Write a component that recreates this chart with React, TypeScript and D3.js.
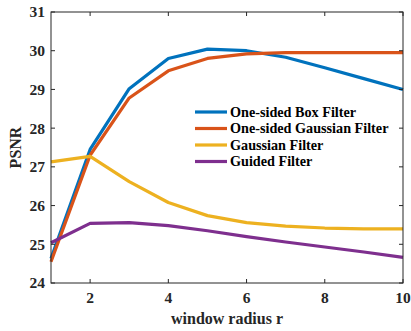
import React from 'react';
import * as d3 from 'd3';

// window radius r
const radius = [1, 2, 3, 4, 5, 6, 7, 8, 9, 10];

// PSNR per filter
const boxFilter = [24.63, 27.45, 29.02, 29.8, 30.04, 30.0, 29.83, 29.56, 29.28, 29.0];
const gaussOneSided = [24.55, 27.3, 28.78, 29.48, 29.8, 29.92, 29.95, 29.95, 29.95, 29.95];
const gaussFilter = [27.13, 27.27, 26.62, 26.08, 25.74, 25.56, 25.47, 25.42, 25.4, 25.4];
const guidedFilter = [25.04, 25.54, 25.56, 25.48, 25.35, 25.2, 25.06, 24.93, 24.8, 24.66];

const seriesNames = ['One-sided Box Filter', 'One-sided Gaussian Filter', 'Gaussian Filter', 'Guided Filter'];
const seriesColors = ['#0072BD', '#D95319', '#EDB120', '#7E2F8E'];

const xTicks = [2, 4, 6, 8, 10];
const yTicks = [24, 25, 26, 27, 28, 29, 30, 31];

const W = 411;
const H = 331;
const margin = { top: 12, right: 8, bottom: 48, left: 51 };
const font = '"Liberation Serif", "Times New Roman", serif';
const axisColor = '#262626';

const App: React.FC = () => {
    const innerW = W - margin.left - margin.right;
    const innerH = H - margin.top - margin.bottom;

    const x = d3.scaleLinear().domain([1, 10]).range([0, innerW]);
    const y = d3.scaleLinear().domain([24, 31]).range([innerH, 0]);

    const series = [boxFilter, gaussOneSided, gaussFilter, guidedFilter];
    const line = d3
        .line<number>()
        .x((_, i) => x(radius[i]))
        .y((d) => y(d));

    const tick = 4;

    return (
        <svg
            width={W}
            height={H}
            style={{ position: 'absolute', left: 0, top: 0, background: '#fff' }}
            fontFamily={font}
        >
            <g transform={`translate(${margin.left},${margin.top})`}>
                {/* data lines */}
                {series.map((s, k) => (
                    <path
                        key={k}
                        d={line(s) || ''}
                        fill="none"
                        stroke={seriesColors[k]}
                        strokeWidth={3.2}
                        strokeLinejoin="round"
                    />
                ))}

                {/* box */}
                <rect x={0} y={0} width={innerW} height={innerH} fill="none" stroke={axisColor} strokeWidth={1} />

                {/* x ticks */}
                {xTicks.map((t) => (
                    <g key={t}>
                        <line x1={x(t)} x2={x(t)} y1={innerH} y2={innerH - tick} stroke={axisColor} />
                        <line x1={x(t)} x2={x(t)} y1={0} y2={tick} stroke={axisColor} />
                        <text
                            x={x(t)}
                            y={innerH + 20}
                            textAnchor="middle"
                            fontSize={15.5}
                            fontWeight="bold"
                            fill={axisColor}
                        >
                            {t}
                        </text>
                    </g>
                ))}

                {/* y ticks */}
                {yTicks.map((t) => (
                    <g key={t}>
                        <line x1={0} x2={tick} y1={y(t)} y2={y(t)} stroke={axisColor} />
                        <line x1={innerW} x2={innerW - tick} y1={y(t)} y2={y(t)} stroke={axisColor} />
                        <text
                            x={-6}
                            y={y(t)}
                            dy="0.35em"
                            textAnchor="end"
                            fontSize={15.5}
                            fontWeight="bold"
                            fill={axisColor}
                        >
                            {t}
                        </text>
                    </g>
                ))}

                {/* axis titles */}
                <text
                    x={innerW / 2}
                    y={innerH + 41}
                    textAnchor="middle"
                    fontSize={16}
                    fontWeight="bold"
                    fill={axisColor}
                >
                    window radius r
                </text>
                <text
                    transform={`translate(${-30},${innerH / 2}) rotate(-90)`}
                    textAnchor="middle"
                    fontSize={16}
                    fontWeight="bold"
                    fill={axisColor}
                >
                    PSNR
                </text>

                {/* legend */}
                <g transform="translate(144,100)">
                    {seriesNames.map((n, k) => (
                        <g key={n} transform={`translate(0,${k * 16.5})`}>
                            <line x1={0} x2={32} y1={0} y2={0} stroke={seriesColors[k]} strokeWidth={3.2} />
                            <text x={35} y={0} dy="0.35em" fontSize={14.2} fontWeight="bold" fill="#000">
                                {n}
                            </text>
                        </g>
                    ))}
                </g>
            </g>
        </svg>
    );
};

export default App;
